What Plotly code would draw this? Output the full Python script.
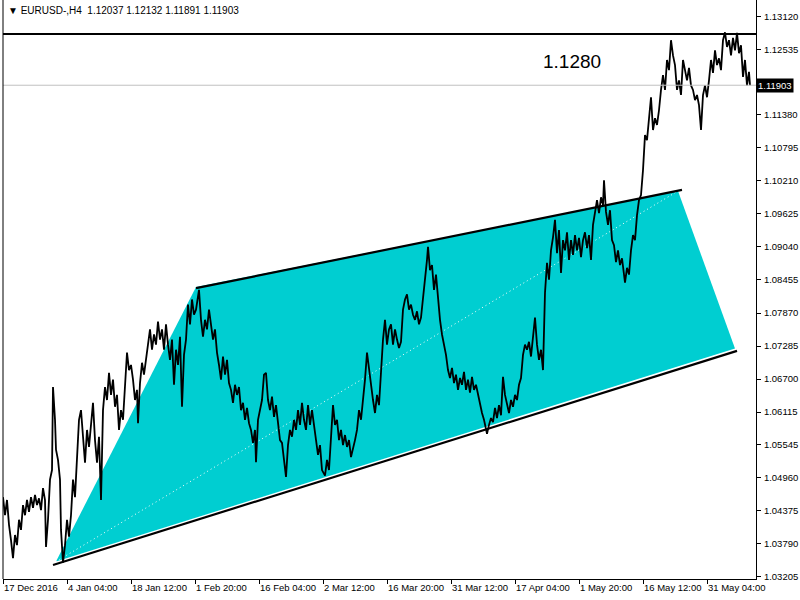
import plotly.graph_objects as go

# ---------------- data ----------------
title_text = "▼ EURUSD-,H4  1.12037 1.12132 1.11891 1.11903"

x_tick_bars = [0, 64, 128, 192, 256, 320, 384, 448, 512, 576, 640, 704]
x_tick_labels = ["17 Dec 2016", "4 Jan 04:00", "18 Jan 12:00", "1 Feb 20:00",
                 "16 Feb 04:00", "2 Mar 12:00", "16 Mar 20:00", "31 Mar 12:00",
                 "17 Apr 04:00", "1 May 20:00", "16 May 12:00", "31 May 04:00"]

y_tick_values = [1.13120, 1.12535, 1.11380, 1.10795, 1.10210, 1.09625, 1.09040,
                 1.08455, 1.07870, 1.07285, 1.06700, 1.06115, 1.05545, 1.04960,
                 1.04375, 1.03790, 1.03205]

# H4 price path (bar index, price) – Dec 2016 .. mid April
bars_1 = [0, 2, 4, 6, 8, 10, 12, 14, 16, 18, 20, 22, 24, 26, 28, 30, 32, 34, 36, 38,
          40, 42, 43, 45, 47, 49, 50, 52, 53, 55, 57, 58, 60, 62, 64, 66, 68, 70, 72, 74,
          76, 78, 80, 82, 84, 86, 88, 90, 92, 94, 96, 98, 100, 102, 104, 106, 108, 110, 112, 114,
          116, 118, 120, 122, 124, 126, 128, 130, 132, 134, 135, 137, 139, 141, 143, 145, 147, 149, 151, 153,
          155, 157, 159, 161, 163, 165, 167, 169, 171, 173, 175, 177, 179, 181, 183, 185, 187, 189, 191, 193,
          196, 198, 200, 202, 204, 206, 208, 210, 212, 214, 216, 218, 220, 222, 224, 226, 228, 230, 232, 234,
          236, 238, 240, 242, 244, 246, 248, 250, 252, 253, 255, 257, 259, 261, 263, 265, 267, 269, 271, 273,
          275, 277, 279, 281, 283, 285, 287, 289, 291, 293, 295, 297, 299, 301, 303, 305, 307, 309, 311, 313,
          315, 317, 319, 322, 324, 326, 328, 330, 332, 334, 336, 338, 340, 342, 344, 346, 348, 350, 352, 354,
          356, 358, 360, 362, 364, 366, 368, 370, 372, 374, 376, 378, 380, 382, 384, 386, 388, 390, 392, 394,
          396, 398, 400, 402, 404, 406, 408, 410, 412, 414, 416, 418, 420, 422, 424, 425, 427, 429, 431, 433,
          435, 437, 439, 441, 443, 445, 447, 449, 451, 453, 455, 457, 459, 461, 463, 465, 467, 469, 471, 473,
          475, 477, 479, 481, 483, 484, 486, 488, 490, 492, 494, 496, 498, 500, 502, 504, 506, 508, 510, 512,
          514, 516, 518, 520, 522, 524, 526, 528, 530, 532, 534, 536, 538, 540]
prices_1 = [1.0461, 1.0429, 1.0456, 1.0412, 1.0385, 1.0353, 1.0394, 1.0376, 1.0421, 1.0403,
            1.0447, 1.0429, 1.0456, 1.0435, 1.0461, 1.0442, 1.0465, 1.0447, 1.0459, 1.0438,
            1.0477, 1.0456, 1.0373, 1.0421, 1.0492, 1.0509, 1.0656, 1.0598, 1.0545, 1.0527,
            1.0492, 1.0403, 1.0345, 1.0376, 1.0421, 1.0391, 1.0429, 1.0492, 1.0461, 1.0536,
            1.0598, 1.0615, 1.0562, 1.0522, 1.0580, 1.0550, 1.0589, 1.0628, 1.0562, 1.0522,
            1.0568, 1.0456, 1.0615, 1.0656, 1.0633, 1.0681, 1.0642, 1.0669, 1.0621, 1.0642,
            1.0580, 1.0615, 1.0598, 1.0669, 1.0717, 1.0686, 1.0695, 1.0669, 1.0633, 1.0651,
            1.0592, 1.0663, 1.0699, 1.0678, 1.0704, 1.0731, 1.0758, 1.0722, 1.0749, 1.0731,
            1.0772, 1.0740, 1.0758, 1.0722, 1.0767, 1.0731, 1.0704, 1.0740, 1.0660, 1.0722,
            1.0695, 1.0745, 1.0621, 1.0713, 1.0740, 1.0802, 1.0767, 1.0811, 1.0784, 1.0793,
            1.0828, 1.0775, 1.0745, 1.0775, 1.0758, 1.0793, 1.0769, 1.0740, 1.0758, 1.0717,
            1.0695, 1.0669, 1.0710, 1.0678, 1.0704, 1.0663, 1.0651, 1.0628, 1.0660, 1.0642,
            1.0656, 1.0615, 1.0628, 1.0598, 1.0619, 1.0592, 1.0580, 1.0557, 1.0580, 1.0523,
            1.0598, 1.0615, 1.0633, 1.0678, 1.0681, 1.0633, 1.0615, 1.0639, 1.0603, 1.0624,
            1.0589, 1.0562, 1.0557, 1.0527, 1.0497, 1.0553, 1.0580, 1.0568, 1.0598, 1.0580,
            1.0615, 1.0589, 1.0628, 1.0598, 1.0580, 1.0624, 1.0589, 1.0615, 1.0585, 1.0562,
            1.0536, 1.0553, 1.0509, 1.0499, 1.0527, 1.0509, 1.0562, 1.0624, 1.0589, 1.0598,
            1.0562, 1.0580, 1.0553, 1.0571, 1.0550, 1.0562, 1.0532, 1.0545, 1.0562, 1.0580,
            1.0615, 1.0598, 1.0628, 1.0669, 1.0717, 1.0686, 1.0663, 1.0633, 1.0610, 1.0642,
            1.0624, 1.0686, 1.0740, 1.0775, 1.0731, 1.0758, 1.0767, 1.0731, 1.0758, 1.0740,
            1.0725, 1.0736, 1.0793, 1.0811, 1.0820, 1.0793, 1.0802, 1.0784, 1.0775, 1.0790,
            1.0767, 1.0779, 1.0811, 1.0846, 1.0881, 1.0904, 1.0863, 1.0872, 1.0828, 1.0855,
            1.0811, 1.0775, 1.0749, 1.0731, 1.0713, 1.0686, 1.0672, 1.0690, 1.0663, 1.0678,
            1.0651, 1.0672, 1.0660, 1.0683, 1.0651, 1.0669, 1.0646, 1.0674, 1.0651, 1.0660,
            1.0642, 1.0624, 1.0610, 1.0598, 1.0580, 1.0573, 1.0589, 1.0601, 1.0594, 1.0619,
            1.0601, 1.0624, 1.0606, 1.0674, 1.0642, 1.0624, 1.0610, 1.0633, 1.0621, 1.0642,
            1.0633, 1.0660, 1.0672, 1.0713, 1.0731, 1.0722, 1.0736, 1.0710, 1.0740, 1.0779,
            1.0731, 1.0704, 1.0722, 1.0686]

# mid April .. early June
bars_2 = [542, 544, 546, 548, 550, 552, 554, 556, 558, 560, 562, 564, 566, 568, 570, 572, 574, 576, 578, 580,
          582, 584, 586, 588, 590, 592, 594, 596, 598, 600, 601, 603, 605, 607, 609, 611, 613, 615, 617, 619,
          621, 622, 624, 626, 628, 630, 632, 634, 636, 638, 640, 642, 644, 646, 648, 650, 652, 654, 656, 658,
          660, 662, 664, 666, 668, 670, 672, 674, 676, 678, 680, 682, 684, 686, 688, 690, 692, 694, 696, 698,
          700, 702, 704, 706, 708, 710, 712, 714, 716, 718, 720, 722, 724, 726, 728, 730, 732, 734, 736, 738,
          740, 742, 744, 746, 747]
prices_2 = [1.0823, 1.0876, 1.0846, 1.0898, 1.0921, 1.0952, 1.0893, 1.0934, 1.0858, 1.0916,
            1.0898, 1.0930, 1.0881, 1.0916, 1.0890, 1.0925, 1.0898, 1.0920, 1.0886, 1.0916,
            1.0930, 1.0902, 1.0925, 1.0881, 1.0943, 1.0969, 1.0987, 1.0964, 1.0992, 1.0978,
            1.1022, 1.0966, 1.0943, 1.0969, 1.0916, 1.0907, 1.0877, 1.0898, 1.0872, 1.0884,
            1.0855, 1.0841, 1.0867, 1.0855, 1.0898, 1.0925, 1.0916, 1.0960, 1.0987, 1.0996,
            1.1040, 1.1102, 1.1093, 1.1129, 1.1169, 1.1111, 1.1132, 1.1120, 1.1146, 1.1182,
            1.1208, 1.1182, 1.1235, 1.1217, 1.1270, 1.1243, 1.1226, 1.1182, 1.1199, 1.1173,
            1.1235, 1.1217, 1.1199, 1.1221, 1.1190, 1.1182, 1.1164, 1.1173, 1.1155, 1.1111,
            1.1173, 1.1190, 1.1169, 1.1199, 1.1235, 1.1212, 1.1252, 1.1226, 1.1238, 1.1217,
            1.1270, 1.1284, 1.1258, 1.1270, 1.1243, 1.1274, 1.1252, 1.1283, 1.1247, 1.1261,
            1.1205, 1.1235, 1.1190, 1.1214, 1.11903]

last_close = 1.11903
level_price = 1.1281
level_label = "1.1280"

# channel drawing (bar index, price)
channel_bars = [53, 193, 675, 732]
channel_prices = [1.0347, 1.0833, 1.1003, 1.0724]
upper_line_bars = [193, 679]
upper_line_prices = [1.0831, 1.1005]
lower_line_bars = [50, 734]
lower_line_prices = [1.0341, 1.0720]

# ---------------- figure ----------------
FONT = "Liberation Sans, Arial, DejaVu Sans, sans-serif"
fig = go.Figure()

fig.add_trace(go.Scatter(
    x=channel_bars + [channel_bars[0]], y=channel_prices + [channel_prices[0]],
    fill="toself", fillcolor="#00CED1", mode="lines",
    line=dict(width=0, color="#00CED1"), hoverinfo="skip"))

fig.add_trace(go.Scatter(
    x=[channel_bars[0], channel_bars[2]], y=[channel_prices[0], channel_prices[2]],
    mode="lines", line=dict(color="white", width=1, dash="1px,3px"), hoverinfo="skip"))

fig.add_trace(go.Scatter(x=upper_line_bars, y=upper_line_prices, mode="lines",
                         line=dict(color="black", width=2.2), hoverinfo="skip"))
fig.add_trace(go.Scatter(x=lower_line_bars, y=lower_line_prices, mode="lines",
                         line=dict(color="black", width=2.2), hoverinfo="skip"))

x_all = bars_1 + bars_2
y_all = prices_1 + prices_2
fig.add_trace(go.Scatter(x=x_all, y=y_all, mode="lines",
                         line=dict(color="black", width=1.8)))

fig.add_hline(y=last_close, line=dict(color="#C0C0C0", width=1))
fig.add_hline(y=level_price, line=dict(color="black", width=2))

fig.add_shape(type="line", xref="paper", yref="paper", x0=0, x1=0, y0=0, y1=1,
              line=dict(color="black", width=1))

fig.add_annotation(xref="paper", yref="paper", x=0, y=1, xanchor="left", yanchor="top",
                   xshift=3, yshift=-3, showarrow=False, text=title_text,
                   font=dict(family=FONT, size=10, color="black"))
fig.add_annotation(x=569, y=1.1233, xref="x", yref="y", showarrow=False, text=level_label,
                   font=dict(family=FONT, size=19, color="black"))
fig.add_annotation(xref="paper", yref="y", x=1, y=last_close, xanchor="left", xshift=0,
                   showarrow=False, text=f"{last_close:.5f}", bgcolor="black",
                   borderpad=1, font=dict(family=FONT, size=9.5, color="white"))

fig.update_layout(
    width=800, height=600,
    margin=dict(l=3, r=44, t=0, b=21, autoexpand=False),
    paper_bgcolor="white", plot_bgcolor="white",
    showlegend=False,
    xaxis=dict(range=[0, 753], showgrid=False, zeroline=False, showline=True,
               linecolor="black", linewidth=1, ticks="outside", ticklen=4,
               tickcolor="black", tickvals=x_tick_bars, ticktext=x_tick_labels,
               ticklabelposition="outside right", tickangle=0, automargin=False,
               tickfont=dict(family=FONT, size=9.5, color="black")),
    yaxis=dict(range=[1.03161, 1.13412], side="right", showgrid=False, zeroline=False,
               showline=True, linecolor="black", linewidth=1, ticks="outside",
               ticklen=4, tickcolor="black", tickvals=y_tick_values, automargin=False,
               ticktext=[f"{v:.5f}" for v in y_tick_values], ticklabelstandoff=1,
               tickfont=dict(family=FONT, size=9.5, color="black")),
)

fig.write_html("out.html", config={"displayModeBar": False},
               post_script="document.body.style.margin='0';document.body.style.overflow='hidden';")
